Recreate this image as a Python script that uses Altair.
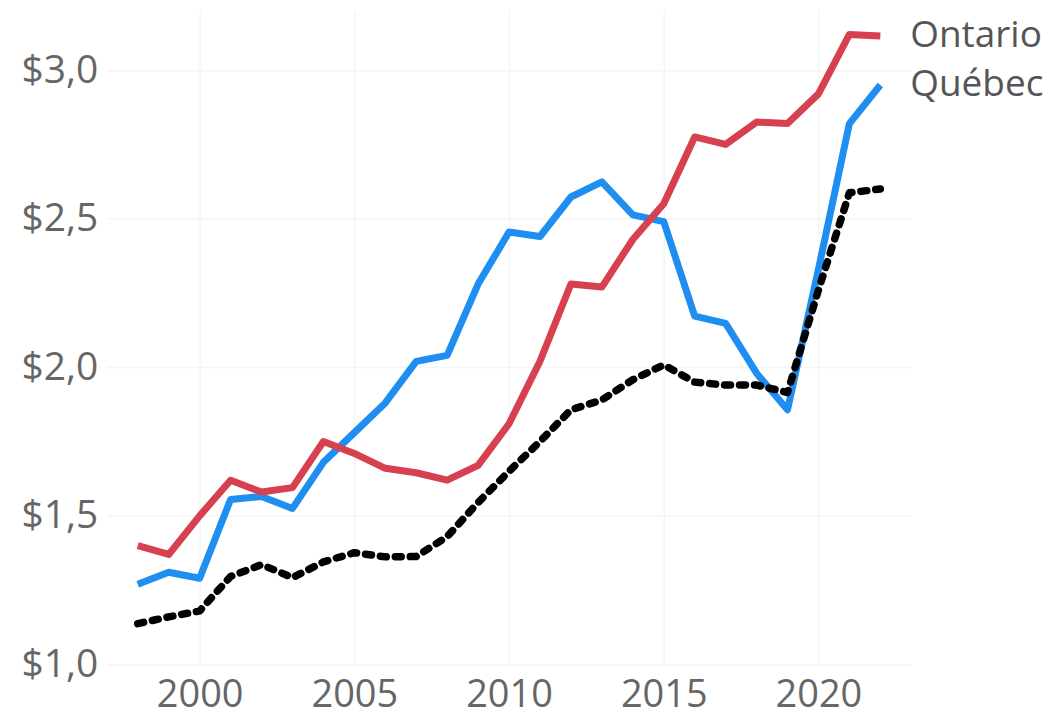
import altair as alt
import pandas as pd

years = list(range(1998, 2023))
ontario = [1.40, 1.37, 1.50, 1.62, 1.58, 1.595, 1.75, 1.71, 1.66, 1.645, 1.62, 1.67, 1.81,
           2.02, 2.28, 2.27, 2.43, 2.55, 2.775, 2.75, 2.825, 2.82, 2.92, 3.12, 3.115]
quebec = [1.27, 1.31, 1.29, 1.555, 1.565, 1.525, 1.68, 1.78, 1.88, 2.02, 2.04, 2.28, 2.455,
          2.44, 2.573, 2.624, 2.513, 2.49, 2.172, 2.148, 1.98, 1.857, 2.33, 2.82, 2.95]
canada = [1.137, 1.16, 1.18, 1.296, 1.336, 1.292, 1.345, 1.376, 1.362, 1.363, 1.43, 1.545, 1.65,
          1.75, 1.857, 1.89, 1.958, 2.008, 1.95, 1.94, 1.94, 1.915, 2.26, 2.587, 2.60]

series_names = ["Ontario", "Québec", "Canada"]
series_values = [ontario, quebec, canada]
colors = {"Ontario": "#D6404F", "Québec": "#1F8EF1", "Canada": "#000000"}
end_labels = ["Ontario", "Québec"]

rows = []
for name, vals in zip(series_names, series_values):
    for yr, v in zip(years, vals):
        rows.append({"year": yr, "value": v, "series": name,
                     "is_end_label": (yr == years[-1] and name in end_labels)})
df = pd.DataFrame(rows)

FONT = "Open Sans"
GRID = "#f5f5f5"

x_enc = alt.X("year:Q",
              scale=alt.Scale(domain=[1997, 2023], nice=False, zero=False),
              axis=alt.Axis(values=[2000, 2005, 2010, 2015, 2020], format="d", title=None,
                            grid=True, ticks=False, domain=False, labelPadding=12,
                            labelFontSize=38, labelColor="#666666", labelFont=FONT,
                            gridColor=GRID, gridWidth=1.5))
y_enc = alt.Y("value:Q",
              scale=alt.Scale(domain=[1.0, 3.2], nice=False, zero=False),
              axis=alt.Axis(values=[1.0, 1.5, 2.0, 2.5, 3.0], title=None,
                            labelExpr="'$' + replace(format(datum.value, '.1f'), '.', ',')",
                            grid=True, ticks=False, domain=False, labelPadding=9,
                            labelFontSize=39, labelColor="#666666", labelFont=FONT,
                            gridColor=GRID, gridWidth=1.5))

base = alt.Chart(df)

def solid(name):
    return base.transform_filter(alt.datum.series == name).mark_line(
        strokeWidth=7, color=colors[name], strokeJoin="round"
    ).encode(x=x_enc, y=y_enc)

quebec_line = solid("Québec")
ontario_line = solid("Ontario")
canada_line = base.transform_filter(alt.datum.series == "Canada").mark_line(
    strokeWidth=7.5, color=colors["Canada"], strokeDash=[6, 9], strokeCap="round",
    strokeJoin="round"
).encode(x=x_enc, y=y_enc)

labels = base.transform_filter("datum.is_end_label").mark_text(
    align="left", baseline="middle", dx=30, fontSize=37, font=FONT, color="#555555"
).encode(x="year:Q", y="value:Q", text="series:N")

chart = alt.layer(quebec_line, ontario_line, canada_line, labels).properties(
    width=806, height=655,
    autosize=alt.AutoSizeParams(type="none"),
    padding={"left": 99, "top": 2, "right": 140, "bottom": 54},
).configure(background="white").configure_view(stroke=None, strokeWidth=0)

chart.save("out.html", embed_options={"renderer": "svg", "actions": False})
